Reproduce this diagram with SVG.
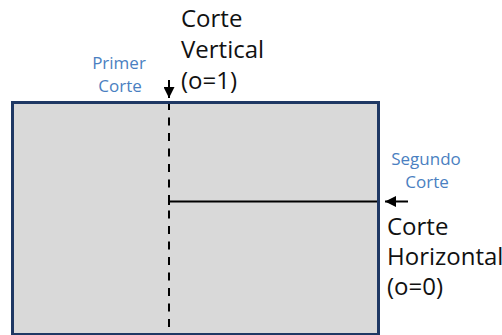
<svg xmlns="http://www.w3.org/2000/svg" width="502" height="335" viewBox="0 0 502 335">
<style>
.lbl{font-family:"Open Sans","Noto Sans",sans-serif;font-size:24px;fill:#111}
.blue{font-family:"Open Sans","Noto Sans",sans-serif;font-size:17px;fill:#4a7fc1;text-anchor:middle}
.ln{stroke:#000;stroke-width:2;fill:none}
</style>
<defs>
<marker id="ah" viewBox="0 0 11 11" refX="11" refY="5.5" markerWidth="11" markerHeight="11" markerUnits="userSpaceOnUse" orient="auto">
<path d="M0,0 L11,5.5 L0,11 z" fill="#000"/>
</marker>
</defs>
<g id="region">
<rect x="12.5" y="102.5" width="366" height="232" fill="#d9d9d9" stroke="#1f3864" stroke-width="3"/>
</g>
<g id="connectors">
<line class="ln" x1="169" y1="104" x2="169" y2="334" stroke-dasharray="8 7.5" stroke-dashoffset="2"/>
<line class="ln" x1="169" y1="201.5" x2="377" y2="201.5"/>
<line class="ln" x1="169" y1="198" x2="169" y2="205"/>
<line class="ln" x1="169" y1="80" x2="169" y2="98" marker-end="url(#ah)"/>
<line class="ln" x1="408" y1="201.5" x2="385" y2="201.5" marker-end="url(#ah)"/>
</g>
<g id="label-vertical">
<text class="lbl" x="181" y="27">Corte</text>
<text class="lbl" x="181" y="58">Vertical</text>
<text class="lbl" x="181" y="89">(o=1)</text>
</g>
<g id="label-primer">
<text class="blue" x="119" y="69">Primer</text>
<text class="blue" x="120" y="92">Corte</text>
</g>
<g id="label-segundo">
<text class="blue" x="426" y="165">Segundo</text>
<text class="blue" x="427" y="188">Corte</text>
</g>
<g id="label-horizontal">
<text class="lbl" x="387" y="235">Corte</text>
<text class="lbl" x="387" y="265">Horizontal</text>
<text class="lbl" x="387" y="295">(o=0)</text>
</g>
</svg>
